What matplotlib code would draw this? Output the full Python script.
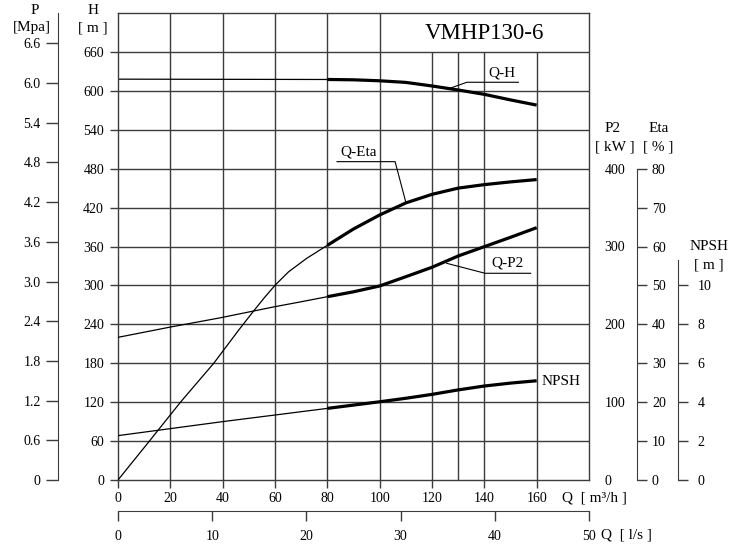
import matplotlib
matplotlib.use('Agg')

import matplotlib.pyplot as plt
import numpy as np


W, H_PX = 733, 547  # output size in pixels

# --- curve data (Q in m3/h) ---
q_h_thin = [0, 80]
h_thin = [618, 617.5]
q_h = [80, 90, 100, 110, 120, 130, 140, 150, 160]
h_vals = [617.5, 617, 615.5, 613, 607.5, 601.3, 594.6, 586, 578]

q_eta_thin = [0, 12, 24, 36.6, 46.1, 51.8, 56, 60.1, 65.2, 72.2, 80]
eta_thin = [0, 10, 20.1, 30, 38.5, 43.4, 46.9, 50.1, 53.5, 57.0, 60.3]
q_eta = [80, 90, 100, 110, 120, 130, 140, 150, 160]
eta_vals = [60.3, 64.5, 68.1, 71.2, 73.4, 75, 75.9, 76.6, 77.2]

q_p2_thin = [0, 20, 39.1, 60, 70, 80]
p2_thin = [183.3, 196.5, 208.4, 222.7, 229, 235.5]
q_p2 = [80, 90, 100, 110, 120, 130, 140, 150, 160]
p2_vals = [235.5, 241.8, 249.3, 261.2, 273.3, 287.8, 299.8, 311.8, 324.2]

q_npsh_thin = [0, 40, 80]
npsh_thin = [2.28, 3.0, 3.68]
q_npsh = [80, 90, 100, 110, 120, 130, 140, 150, 160]
npsh_vals = [3.68, 3.85, 4.02, 4.2, 4.4, 4.63, 4.83, 4.98, 5.1]

# --- axis ticks ---
q_ticks = list(range(0, 161, 20))
qs_ticks = list(range(0, 51, 10))
h_ticks = list(range(0, 661, 60))
p_ticks = [0, 0.6, 1.2, 1.8, 2.4, 3.0, 3.6, 4.2, 4.8, 5.4, 6.0, 6.6]
p2_ticks = [0, 100, 200, 300, 400]
eta_ticks = [0, 10, 20, 30, 40, 50, 60, 70, 80]
npsh_ticks = [0, 2, 4, 6, 8, 10]
q_grid = [20, 40, 60, 80, 100, 120, 130, 140, 160]

TITLE = "VMHP130-6"

GRID_C = '#3c3c3c'
THIN = 0.9
THICK = 2.3


def fx(px):
    return px / W


def fy(py):
    return 1 - py / H_PX


def only_spine(a, name):
    for k, s in a.spines.items():
        s.set_visible(k == name)


def main():
    plt.rcParams['font.family'] = ['Liberation Serif', 'DejaVu Serif']
    plt.rcParams['font.size'] = 10

    fig = plt.figure(figsize=(W / 100, H_PX / 100), dpi=100)
    ax = fig.add_axes([fx(118), fy(480), fx(589) - fx(118), fy(13) - fy(480)])
    ax.set_xlim(0, 180)
    ax.set_ylim(0, 720)

    # grid
    for q in q_grid:
        top = 720 if q <= 100 else 660
        ax.vlines(q, 0, top, color=GRID_C, lw=1.0)
    for h in h_ticks[1:]:
        ax.hlines(h, 0, 180, color=GRID_C, lw=1.0)
    for s in ax.spines.values():
        s.set_color(GRID_C)
        s.set_linewidth(1.0)

    ax.set_xticks(q_ticks)
    ax.set_yticks(h_ticks)
    ax.tick_params(axis='x', direction='out', length=6, width=1,
                   color=GRID_C, pad=3)
    ax.tick_params(axis='y', direction='out', length=6, width=1,
                   color=GRID_C, pad=4)

    ax.text(140, 689, TITLE, ha='center', va='center', fontsize=16.5)

    # Q-H
    ax.plot(q_h_thin, h_thin, 'k', lw=THIN)
    ax.plot(q_h, h_vals, 'k', lw=THICK, solid_capstyle='butt')
    ax.plot([126.9, 133.3, 153], [604, 613.2, 613.2], 'k', lw=0.8)
    ax.text(146.6, 627, "Q-H", ha='center', va='center', fontsize=11)

    # P2 axis on the right frame
    ax2 = ax.twinx()
    ax2.set_ylim(0, 600)
    ax2.set_yticks(p2_ticks)
    ax2.tick_params(axis='y', length=0, pad=11)
    only_spine(ax2, None)
    ax2.plot(q_p2_thin, p2_thin, 'k', lw=THIN)
    ax2.plot(q_p2, p2_vals, 'k', lw=THICK, solid_capstyle='butt')
    ax.plot([125.6, 140.3, 157.7], [334.1, 318.7, 318.7], 'k', lw=0.8)
    ax.text(148.8, 334, "Q-P2", ha='center', va='center', fontsize=11)

    # Eta axis
    ax3 = ax.twinx()
    ax3.set_ylim(0, 120)
    ax3.spines['right'].set_position(('outward', 34.3))
    ax3.spines['right'].set_bounds(0, 80)
    ax3.spines['right'].set_color(GRID_C)
    only_spine(ax3, 'right')
    ax3.set_yticks(eta_ticks)
    ax3.tick_params(axis='y', direction='out', length=7, width=1,
                    color=GRID_C, pad=4)
    ax3.plot(q_eta_thin, eta_thin, 'k', lw=THIN)
    ax3.plot(q_eta, eta_vals, 'k', lw=THICK, solid_capstyle='butt')
    ax.plot([83.7, 105.9, 110.1], [490.8, 490.8, 426.6], 'k', lw=0.8)
    ax.text(91.9, 506, "Q-Eta", ha='center', va='center', fontsize=11)

    # NPSH axis
    ax4 = ax.twinx()
    ax4.set_ylim(0, 24)
    ax4.spines['right'].set_position(('outward', 64.3))
    ax4.spines['right'].set_bounds(0, 11.3)
    ax4.spines['right'].set_color(GRID_C)
    only_spine(ax4, 'right')
    ax4.set_yticks(npsh_ticks)
    ax4.tick_params(axis='y', direction='out', length=7, width=1,
                    color=GRID_C, pad=7)
    ax4.plot(q_npsh_thin, npsh_thin, 'k', lw=THIN)
    ax4.plot(q_npsh, npsh_vals, 'k', lw=THICK, solid_capstyle='butt')
    ax.text(162, 151.6, "NPSH", ha='left', va='center', fontsize=11)

    # P axis (pressure) on the far left
    ax5 = ax.twinx()
    ax5.set_ylim(0, 7.06)
    ax5.yaxis.set_ticks_position('left')
    ax5.yaxis.set_label_position('left')
    ax5.spines['left'].set_position(('outward', 43.2))
    ax5.spines['left'].set_bounds(0, 7.06)
    ax5.spines['left'].set_color(GRID_C)
    only_spine(ax5, 'left')
    ax5.set_yticks(p_ticks)
    ax5.set_yticklabels(['0' if p == 0 else f"{p:.1f}" for p in p_ticks])
    ax5.tick_params(axis='y', direction='out', length=8.5, width=1,
                    color=GRID_C, pad=4)

    # second Q scale in l/s
    sec = ax.secondary_xaxis(-31 / 467, functions=(lambda q: q / 3.6,
                                                   lambda s: s * 3.6))
    sec.set_xticks(qs_ticks)
    sec.spines['bottom'].set_color(GRID_C)
    sec.tick_params(axis='x', direction='out', length=7.5, width=1,
                    color=GRID_C, pad=6)

    # axis headers
    hdr = dict(ha='center', va='center', fontsize=11)
    fig.text(fx(35), fy(10), "P", **hdr)
    fig.text(fx(32), fy(28), "[Mpa]", **hdr)
    fig.text(fx(93), fy(10), "H", **hdr)
    fig.text(fx(93), fy(28), "[ m ]", **hdr)
    fig.text(fx(613), fy(128), "P2", **hdr)
    fig.text(fx(615), fy(147), "[ kW ]", **hdr)
    fig.text(fx(659), fy(128), "Eta", **hdr)
    fig.text(fx(658), fy(147), "[ % ]", **hdr)
    fig.text(fx(709), fy(246), "NPSH", **hdr)
    fig.text(fx(709), fy(265), "[ m ]", **hdr)
    fig.text(fx(562), fy(498), "Q  [ m³/h ]", ha='left', va='center',
             fontsize=11)
    fig.text(fx(601), fy(535), "Q  [ l/s ]", ha='left', va='center',
             fontsize=11)

    fig.savefig('out.png', dpi=100)


if __name__ == "__main__":
    main()
